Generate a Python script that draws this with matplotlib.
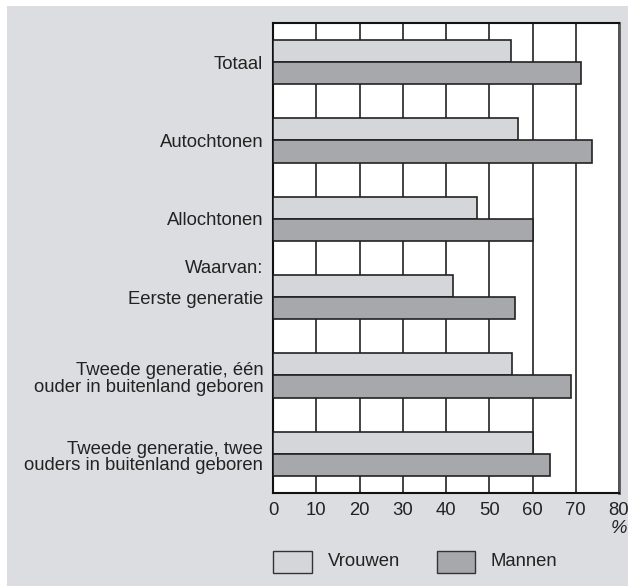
import matplotlib
matplotlib.use("Agg")
import matplotlib.pyplot as plt
from matplotlib.patches import Rectangle
import matplotlib.transforms as mtransforms

plt.rcParams['font.family'] = ['Liberation Sans', 'DejaVu Sans']

# data
categories = ["Totaal", "Autochtonen", "Allochtonen", "Eerste generatie",
              "Tweede generatie, één\nouder in buitenland geboren",
              "Tweede generatie, twee\nouders in buitenland geboren"]
vrouwen = [55.0, 56.7, 47.2, 41.7, 55.3, 60.2]
mannen = [71.2, 73.8, 60.1, 55.9, 68.9, 64.0]
xticks = [0, 10, 20, 30, 40, 50, 60, 70, 80]

bg = '#dcdde0'
c_v = '#d5d6d9'
c_m = '#a7a8ab'
txt = '#222222'
fs = 13.3

fig = plt.figure(figsize=(6.28, 5.87), dpi=100)
fig.patch.set_facecolor('white')
# grey panel behind everything
fig.add_artist(Rectangle((7 / 628, 1 - 586 / 587), 621 / 628, 580 / 587,
                         transform=fig.transFigure, facecolor=bg,
                         edgecolor='none', zorder=-10))

ax = fig.add_axes([273 / 628, 1 - 493 / 587, 346 / 628, 470 / 587])
ax.set_facecolor('white')

h = 22 / 78
y = list(range(len(categories)))
ax.barh([i - h / 2 for i in y], vrouwen, height=h, color=c_v,
        edgecolor='#222222', linewidth=1.2, zorder=3)
ax.barh([i + h / 2 for i in y], mannen, height=h, color=c_m,
        edgecolor='#222222', linewidth=1.2, zorder=3)

ax.set_xlim(0, 80)
ax.set_ylim(len(categories) - 0.5, -0.5)
ax.set_xticks(xticks)
ax.set_xticklabels([str(t) for t in xticks])
ax.set_yticks(y)
ax.set_yticklabels(categories, linespacing=0.95)
ax.tick_params(axis='both', length=0, labelsize=fs, labelcolor=txt)
ax.tick_params(axis='x', pad=6.5)
ax.tick_params(axis='y', pad=7)
# two-line labels sit a little lower in the original
for lab in ax.get_yticklabels()[4:]:
    lab.set_transform(lab.get_transform() + mtransforms.ScaledTranslation(0, -2 / 100, fig.dpi_scale_trans))

ax.set_axisbelow(True)
ax.xaxis.grid(True, color='#222222', linewidth=1.2)
ax.yaxis.grid(False)

for s in ['left', 'top', 'bottom']:
    ax.spines[s].set_color('#111111')
    ax.spines[s].set_linewidth(1.5)
ax.spines['right'].set_color('#555555')
ax.spines['right'].set_linewidth(2)

# extra label above "Eerste generatie"
ytr = mtransforms.blended_transform_factory(ax.transAxes, ax.transData)
ax.text(-10 / 346, 3 - 0.36, "Waarvan:", transform=ytr, ha='right',
        va='center', fontsize=fs, color=txt)

# unit below the axis
ax.text(1.0, -0.075, "%", transform=ax.transAxes, ha='center', va='center',
        fontsize=fs, color=txt, style='italic')

# legend
fig.add_artist(Rectangle((273 / 628, 1 - 573 / 587), 39 / 628, 22 / 587,
                         transform=fig.transFigure, facecolor=c_v,
                         edgecolor='#333333', linewidth=1))
fig.text(328 / 628, 1 - 562 / 587, "Vrouwen", ha='left', va='center',
         fontsize=fs, color=txt)
fig.add_artist(Rectangle((437 / 628, 1 - 573 / 587), 38 / 628, 22 / 587,
                         transform=fig.transFigure, facecolor=c_m,
                         edgecolor='#333333', linewidth=1))
fig.text(490 / 628, 1 - 562 / 587, "Mannen", ha='left', va='center',
         fontsize=fs, color=txt)

fig.savefig("out.png", dpi=100)
